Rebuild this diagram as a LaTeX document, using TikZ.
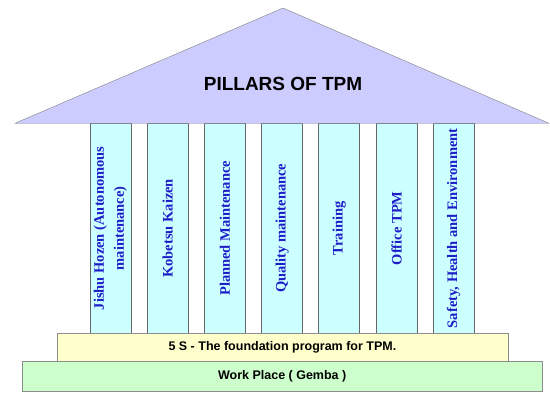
\documentclass[tikz,border=0pt]{standalone}
\usepackage{fontspec}
\setmainfont{Liberation Serif}
\setsansfont{Liberation Sans}
\definecolor{roofcol}{RGB}{204,204,255}
\definecolor{pillarcol}{RGB}{204,255,255}
\definecolor{fivescol}{RGB}{255,255,204}
\definecolor{groundcol}{RGB}{204,255,204}
\definecolor{pillartext}{RGB}{30,30,200}
\tikzset{
    pillar/.style={draw=black!60, line width=0.9pt, fill=pillarcol, rotate=90,
        minimum width=210pt, minimum height=41pt, inner sep=1pt,
        align=center, text=pillartext, font=\bfseries\fontsize{14.5}{20}\selectfont},
    band/.style={draw=black!45, anchor=south west, inner sep=0pt,
        font=\sffamily\bfseries\fontsize{12.5}{14}\selectfont}
}
\begin{document}
\begin{tikzpicture}[x=1pt, y=1pt]
    \useasboundingbox (0,0) rectangle (550,392);

    % the pillars, drawn first so the roof sits on top of them
    \foreach \i/\xc/\txt in {1/110.5/{Jishu Hozen (Autonomous\\maintenance)},
                             2/167.7/{Kobetsu Kaizen},
                             3/224.9/{Planned Maintenance},
                             4/282.1/{Quality maintenance},
                             5/339.3/{Training},
                             6/396.5/{Office TPM},
                             7/453.7/{Safety, Health and Environment}}
        \node[pillar] (p\i) at (\xc,163.7) {\txt};

    % roof
    \coordinate (apex) at (283,384);
    \coordinate (eaveL) at (15,268.7);
    \coordinate (eaveR) at (549,268.7);
    \draw[black!50, fill=roofcol] (eaveL) -- (apex) -- (eaveR) -- cycle;
    \node[font=\sffamily\bfseries\fontsize{19}{22}\selectfont] (title) at (283,308) {PILLARS OF TPM};

    % foundation steps
    \node[band, fill=fivescol, minimum width=451pt, minimum height=27.7pt] (fives) at (56.7,31)
        {5 S - The foundation program for TPM.};
    \node[band, fill=groundcol, minimum width=519.4pt, minimum height=30pt] (ground) at (22.3,1)
        {Work Place ( Gemba )};
\end{tikzpicture}
\end{document}
